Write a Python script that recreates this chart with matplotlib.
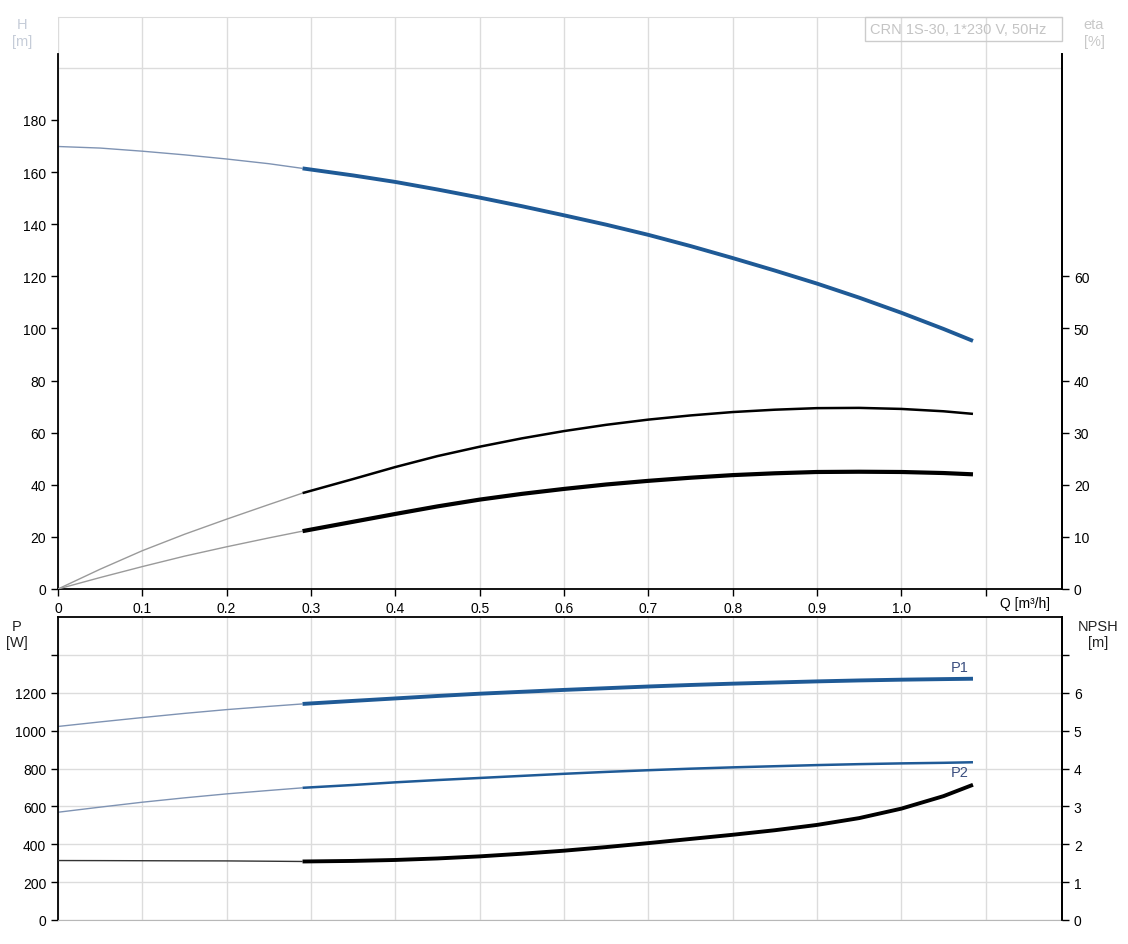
import numpy as np
import matplotlib
matplotlib.use('Agg')
import matplotlib.pyplot as plt
from matplotlib.patches import Rectangle

plt.rcParams['font.family'] = ['Liberation Sans', 'DejaVu Sans']
plt.rcParams['font.size'] = 10

# flow points [m3/h]; index 6 (0.29) is where the thin part of each curve ends
q = [0, 0.05, 0.1, 0.15, 0.2, 0.25, 0.29, 0.35, 0.4, 0.45, 0.5, 0.55, 0.6,
     0.65, 0.7, 0.75, 0.8, 0.85, 0.9, 0.95, 1.0, 1.05, 1.085]
h = [169.8, 169.2, 168.0, 166.6, 165.0, 163.2, 161.4, 158.7, 156.2, 153.3, 150.2, 146.9,
     143.4, 139.8, 135.9, 131.6, 127.0, 122.2, 117.2, 111.8, 106.0, 99.8, 95.2]
eta_a = [0, 3.8, 7.35, 10.5, 13.4, 16.2, 18.4, 21.1, 23.4, 25.5, 27.3, 28.9,
         30.3, 31.5, 32.5, 33.3, 33.95, 34.4, 34.7, 34.75, 34.55, 34.1, 33.6]
eta_b = [0, 2.2, 4.3, 6.3, 8.1, 9.8, 11.1, 12.9, 14.4, 15.85, 17.15, 18.25,
         19.2, 20.05, 20.75, 21.35, 21.85, 22.2, 22.45, 22.5, 22.45, 22.25, 22.0]
p1 = [1022, 1046, 1069, 1091, 1111, 1128, 1141, 1157, 1170, 1183, 1195, 1205,
      1215, 1224, 1233, 1241, 1248, 1254, 1260, 1265, 1269, 1272, 1274]
p2 = [569, 596, 622, 645, 666, 684, 698, 713, 727, 739, 750, 761,
      772, 782, 791, 799, 806, 812, 818, 823, 827, 830, 833]
npsh = [1.57, 1.568, 1.565, 1.562, 1.56, 1.552, 1.545, 1.56, 1.585, 1.625, 1.68, 1.75,
        1.83, 1.925, 2.03, 2.14, 2.25, 2.37, 2.51, 2.69, 2.94, 3.27, 3.57]

x_ticks = [0, 0.1, 0.2, 0.3, 0.4, 0.5, 0.6, 0.7, 0.8, 0.9, 1.0, 1.1]
x_labels = ['0', '0.1', '0.2', '0.3', '0.4', '0.5', '0.6', '0.7', '0.8', '0.9', '1.0', '']

BLUE = '#1f5a96'
THIN_BLUE = '#7f93b3'
GRID = '#dcdcdc'
W, H = 1128, 945
XMAX = (1062 - 58) / 843.3
K = 6

fig = plt.figure(figsize=(W / 100, H / 100), dpi=100)


def box(l, t, r, b):
    return [l / W, 1 - b / H, (r - l) / W, (b - t) / H]


def split_plot(ax, x, y, k, thin_c, thick_c, lw):
    ax.plot(x[:k + 1], y[:k + 1], color=thin_c, lw=1.0, solid_capstyle='butt')
    ax.plot(x[k:], y[k:], color=thick_c, lw=lw, solid_capstyle='butt',
            solid_joinstyle='round')


# ---- upper chart: H and eta ----
ax = fig.add_axes(box(58, 18, 1062, 590))
hmax = (590 - 18) / 2.606
ax.set_xlim(0, XMAX)
ax.set_ylim(0, hmax)
ax.set_xticks(x_ticks)
ax.set_xticklabels(x_labels)
ax.set_yticks(range(0, 181, 20))
ax.set_yticks(range(0, 201, 20), minor=True)
ax.grid(True, which='major', axis='x', color=GRID, lw=1)
ax.grid(True, which='minor', axis='y', color=GRID, lw=1)
ax.tick_params(which='minor', length=0)
ax.tick_params(length=5, width=1, colors='black', labelsize=10)
top_h = (590 - 55) / 2.606
ax.spines['left'].set_bounds(0, top_h)
ax.spines['right'].set_bounds(0, top_h)
ax.spines['top'].set_color(GRID)
for s in ['left', 'right', 'bottom']:
    ax.spines[s].set_linewidth(1.3)
ax.set_axisbelow(True)

split_plot(ax, q, h, K, THIN_BLUE, BLUE, 2.8)

ax2 = ax.twinx()
ax2.set_ylim(0, hmax / 2)
ax2.set_yticks(range(0, 61, 10))
ax2.tick_params(length=5, width=1, labelsize=10)
ax2.spines['right'].set_bounds(0, top_h / 2)
ax2.spines['right'].set_linewidth(1.3)
for s in ['left', 'top', 'bottom']:
    ax2.spines[s].set_visible(False)
split_plot(ax2, q, eta_a, K, '#9a9a9a', 'black', 1.8)
split_plot(ax2, q, eta_b, K, '#9a9a9a', 'black', 3.0)

# ---- lower chart: P and NPSH ----
bx = fig.add_axes(box(58, 618, 1062, 921))
bx.set_xlim(0, XMAX)
bx.set_ylim(0, 1600)
bx.set_xticks(x_ticks)
bx.set_yticks(range(0, 1401, 200))
bx.set_yticklabels(['0', '200', '400', '600', '800', '1000', '1200', ''])
bx.tick_params(axis='x', length=0, labelbottom=False)
bx.tick_params(axis='y', length=5, width=1, labelsize=10)
bx.grid(True, color=GRID, lw=1)
bx.set_axisbelow(True)
bx.spines['bottom'].set_color('#b8b8b8')
for s in ['left', 'right', 'top']:
    bx.spines[s].set_linewidth(1.3)

split_plot(bx, q, p1, K, THIN_BLUE, BLUE, 2.8)
split_plot(bx, q, p2, K, THIN_BLUE, BLUE, 1.8)
bx.text(1.08, 1337, 'P1', color='#3b4f80', fontsize=10.5, ha='right', va='center')
bx.text(1.08, 782, 'P2', color='#3b4f80', fontsize=10.5, ha='right', va='center')

bx2 = bx.twinx()
bx2.set_ylim(0, 8)
bx2.set_yticks(range(0, 8))
bx2.set_yticklabels(['0', '1', '2', '3', '4', '5', '6', ''])
bx2.tick_params(length=5, width=1, labelsize=10)
bx2.spines['right'].set_linewidth(1.3)
for s in ['left', 'top', 'bottom']:
    bx2.spines[s].set_visible(False)
split_plot(bx2, q, npsh, K, '#333333', 'black', 2.8)

# ---- axis captions and title box ----
cap = dict(fontsize=10.5, ha='center', va='center')
fig.text(1000 / W, 1 - 604 / H, 'Q [m³/h]', fontsize=10, ha='left', va='center')
fig.text(22 / W, 1 - 25 / H, 'H', color='#c5ccd8', **cap)
fig.text(22 / W, 1 - 42 / H, '[m]', color='#c5ccd8', **cap)
fig.text(1094 / W, 1 - 25 / H, 'eta', color='#c8c8c8', **cap)
fig.text(1094 / W, 1 - 42 / H, '[%]', color='#c8c8c8', **cap)
fig.text(17 / W, 1 - 627 / H, 'P', color='#222222', **cap)
fig.text(17 / W, 1 - 643 / H, '[W]', color='#222222', **cap)
fig.text(1098 / W, 1 - 627 / H, 'NPSH', color='#222222', **cap)
fig.text(1098 / W, 1 - 643 / H, '[m]', color='#222222', **cap)

fig.patches.append(Rectangle((865 / W, 1 - 42 / H), (1062 - 865) / W, 24 / H,
                             transform=fig.transFigure, fill=False,
                             edgecolor='#cccccc', lw=1))
fig.text(870 / W, 1 - 30 / H, 'CRN 1S-30, 1*230 V, 50Hz', color='#c4c4c4',
         fontsize=10.5, ha='left', va='center')

fig.savefig('out.png', dpi=100)
